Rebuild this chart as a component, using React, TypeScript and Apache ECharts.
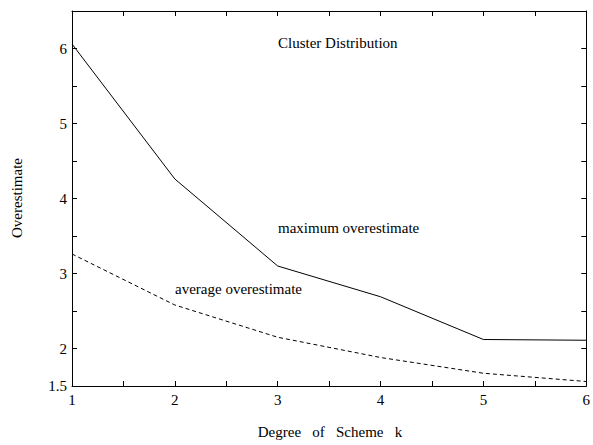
import React, { useEffect, useRef } from "react";
import * as echarts from "echarts";

const degrees = [1, 2, 3, 4, 5, 6];
const maximumOverestimate = [6.06, 4.26, 3.1, 2.69, 2.12, 2.11];
const averageOverestimate = [3.26, 2.58, 2.15, 1.88, 1.67, 1.56];
const yLabelValues = [1.5, 2, 3, 4, 5, 6];
const xLabelValues = [1, 2, 3, 4, 5, 6];

const FONT = "serif";

export default function App() {
  const ref = useRef<HTMLDivElement>(null);
  useEffect(() => {
    if (!ref.current) return;
    const chart = echarts.init(ref.current, undefined, { renderer: "svg" });
    const axisLine = { show: true, lineStyle: { color: "#000", width: 1 } };
    const tick = { show: true, inside: true, length: 5, lineStyle: { color: "#000", width: 1 } };
    const xCommon = { type: "value" as const, min: 1, max: 6, interval: 0.5, splitLine: { show: false }, axisLine, axisTick: tick };
    const yCommon = { type: "value" as const, min: 1.5, max: 6.5, interval: 0.5, splitLine: { show: false }, axisLine, axisTick: tick };
    const txt = (text: string, x: number, y: number, align: string, rotation = 0) => ({
      type: "text",
      x,
      y,
      rotation,
      style: { text, fill: "#000", font: `15px ${FONT}`, verticalAlign: "middle", align },
    });
    chart.setOption({
      animation: false,
      backgroundColor: "#fff",
      textStyle: { fontFamily: FONT },
      grid: { left: 72, right: 5, top: 11, bottom: 59, containLabel: false },
      xAxis: [
        {
          ...xCommon,
          position: "bottom",
          axisLabel: {
            margin: 6,
            color: "#000",
            fontFamily: FONT,
            fontSize: 15,
            formatter: (v: number) => (xLabelValues.includes(v) ? String(v) : ""),
          },
        },
        { ...xCommon, position: "top", axisLabel: { show: false } },
      ],
      yAxis: [
        {
          ...yCommon,
          position: "left",
          axisLabel: {
            margin: 5,
            color: "#000",
            fontFamily: FONT,
            fontSize: 15,
            formatter: (v: number) => (yLabelValues.includes(v) ? String(v) : ""),
          },
        },
        { ...yCommon, position: "right", axisLabel: { show: false } },
      ],
      series: [
        {
          name: "maximum overestimate",
          type: "line",
          data: degrees.map((d, i) => [d, maximumOverestimate[i]]),
          symbol: "none",
          lineStyle: { color: "#000", width: 1 },
        },
        {
          name: "average overestimate",
          type: "line",
          data: degrees.map((d, i) => [d, averageOverestimate[i]]),
          symbol: "none",
          lineStyle: { color: "#000", width: 1, type: [4, 3] },
        },
      ],
      graphic: [
        txt("Cluster Distribution", 278, 43, "left"),
        txt("maximum overestimate", 278, 228, "left"),
        txt("average overestimate", 175, 289, "left"),
        txt("Degree   of   Scheme   k", 330, 432, "center"),
        txt("Overestimate", 17, 198, "center", Math.PI / 2),
      ],
    });
    return () => chart.dispose();
  }, []);
  return (
    <div
      ref={ref}
      style={{ position: "fixed", left: 0, top: 0, width: 593, height: 445, background: "#fff" }}
    />
  );
}
